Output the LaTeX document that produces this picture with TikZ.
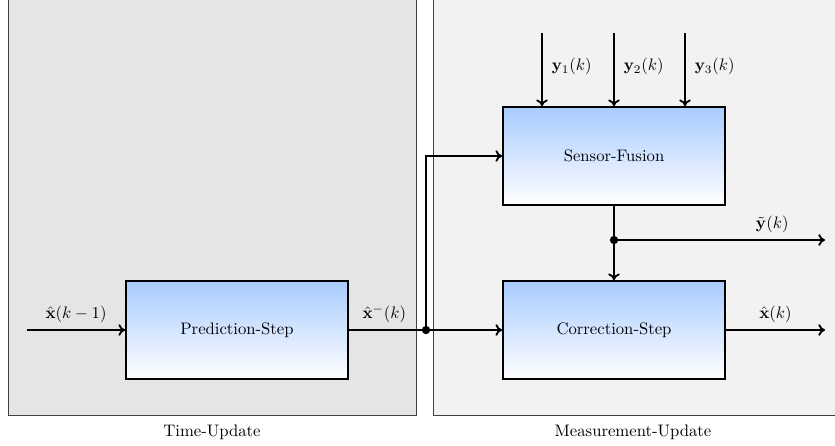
\documentclass[tikz,border=0pt]{standalone}
\usetikzlibrary{arrows.meta}
\definecolor{lightblue}{RGB}{168,203,255}
\definecolor{panelA}{RGB}{229,229,229}
\definecolor{panelB}{RGB}{242,242,242}
\begin{document}
\begin{tikzpicture}[x=0.6pt,y=-0.6pt,
  blockbox/.style={draw=black,line width=1.1pt,top color=lightblue,bottom color=white,
    minimum width=222*0.6pt,minimum height=98*0.6pt,inner sep=0pt},
  conn/.style={line width=1.1pt},
  arr/.style={conn,-{To[length=4pt,width=7pt]}},
  panel/.style={draw=black!75,line width=0.6pt},
  lbl/.style={above=0.5pt},
  dotmark/.style={circle,fill=black,inner sep=0pt,minimum size=5pt}]
\useasboundingbox (0,0) rectangle (835,445);
% panels
\draw[panel,fill=panelA] (8,-2) rectangle (416,415);
\draw[panel,fill=panelB] (433,-2) rectangle (837,415);
\node (tu) at (212,432) {Time-Update};
\node (mu) at (633,432) {Measurement-Update};
% blocks
\node[blockbox] (pred) at (237,330) {Prediction-Step};
\node[blockbox] (fus) at (614,156) {Sensor-Fusion};
\node[blockbox] (corr) at (614,330) {Correction-Step};
% coordinates
\coordinate (in) at (27,330);
\node[dotmark] (d1) at (426,330) {};
\coordinate (up) at (426,156);
\node[dotmark] (d2) at (614,240) {};
\coordinate (yout) at (825,240);
\coordinate (xout) at (825,330);
\coordinate (y1s) at (542,33);
\coordinate (y2s) at (614,33);
\coordinate (y3s) at (685,33);
% connectors
\draw[arr] (in) -- node[lbl] {$\hat{\mathbf{x}}(k-1)$} (pred.west);
\draw[conn] (pred.east) -- node[lbl,pos=0.46] {$\hat{\mathbf{x}}^{-}(k)$} (d1.center);
\draw[arr] (d1.center) -- (corr.west);
\draw[arr] (d1.center) -- (up) -- (fus.west);
\draw[arr] (y1s) -- node[right=2pt,pos=0.46] {$\mathbf{y}_1(k)$} (y1s |- fus.north);
\draw[arr] (y2s) -- node[right=2pt,pos=0.46] {$\mathbf{y}_2(k)$} (y2s |- fus.north);
\draw[arr] (y3s) -- node[right=2pt,pos=0.46] {$\mathbf{y}_3(k)$} (y3s |- fus.north);
\draw[conn] (fus.south) -- (d2.center);
\draw[arr] (d2.center) -- (corr.north);
\draw[arr] (d2.center) -- node[lbl,pos=0.75] {$\tilde{\mathbf{y}}(k)$} (yout);
\draw[arr] (corr.east) -- node[lbl] {$\hat{\mathbf{x}}(k)$} (xout);
\end{tikzpicture}
\end{document}
